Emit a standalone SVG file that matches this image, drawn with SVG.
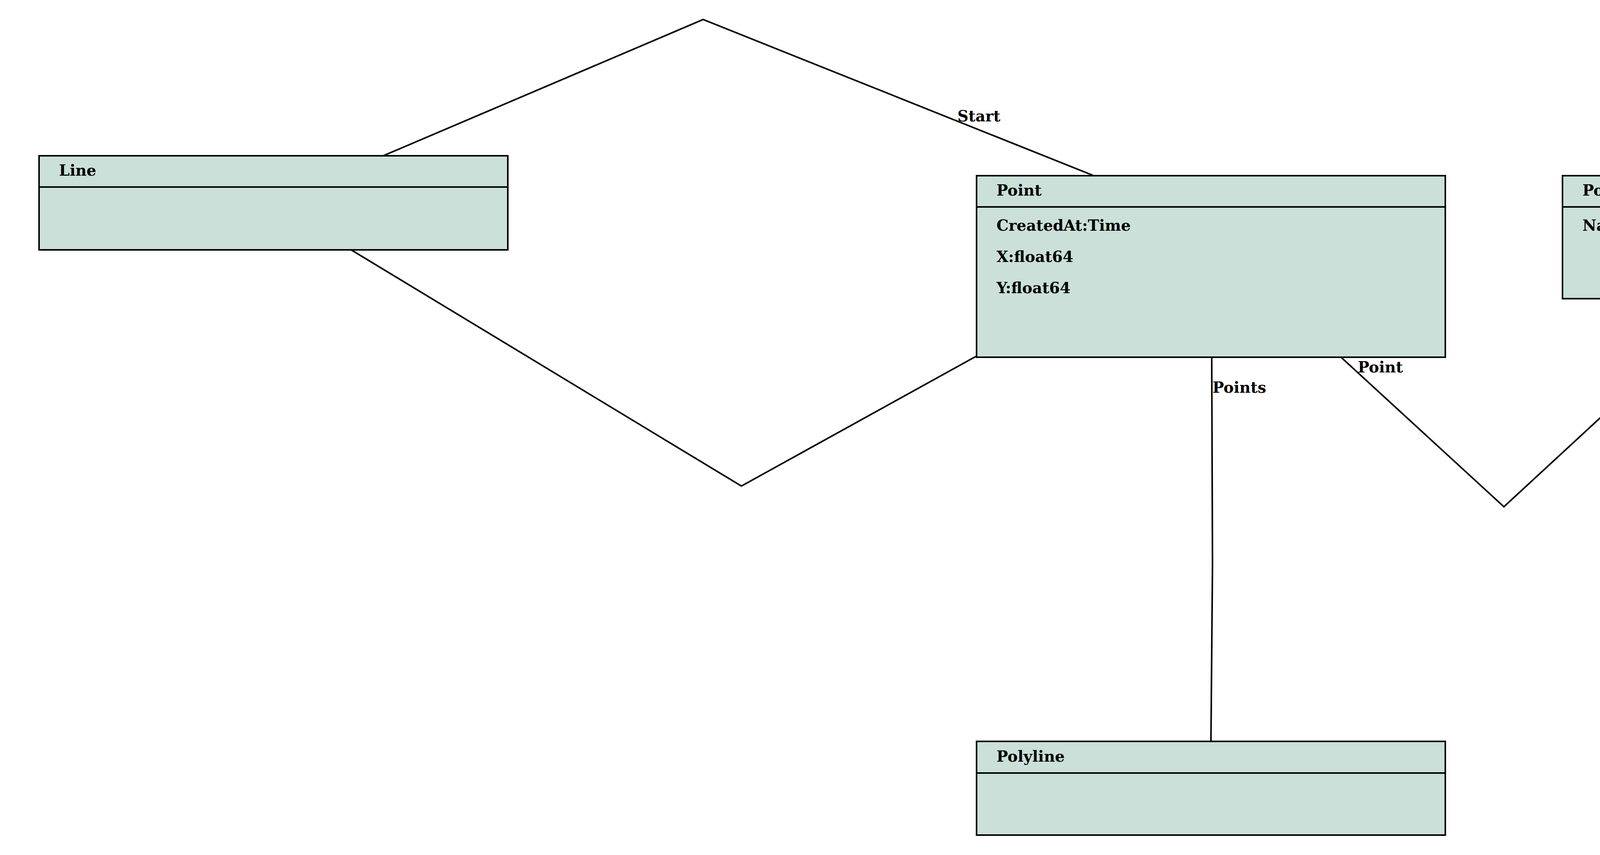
<svg xmlns="http://www.w3.org/2000/svg" width="5250" height="2190" viewBox="0 0 5250 2190">
<style>
.box{fill:#cbe0d8;stroke:#000;stroke-width:4}
.div{stroke:#000;stroke-width:4}
.edge{fill:none;stroke:#000;stroke-width:4;stroke-linejoin:miter}
text{font-family:"DejaVu Serif","Liberation Serif",serif;font-weight:bold;font-size:39px;fill:#000}
</style>
<rect width="5250" height="2190" fill="#fff"/>
<g id="connectors">
<polyline class="edge" points="981,399 1800,50 2800,450"/>
<text x="2451" y="311">Start</text>
<polyline class="edge" points="899,640 1898,1245 2500,912"/>
<polyline class="edge" points="3102,915 3104,1445 3100,1899"/>
<text x="3104" y="1006">Points</text>
<polyline class="edge" points="3433,915 3850,1298 4427,765"/>
<text x="3476" y="954">Point</text>
</g>
<g id="node-Line">
<rect class="box" x="100" y="399" width="1200" height="241"/>
<line class="div" x1="100" y1="479" x2="1300" y2="479"/>
<text x="151" y="450">Line</text>
</g>
<g id="node-Point">
<rect class="box" x="2500" y="450" width="1200" height="465"/>
<line class="div" x1="2500" y1="530" x2="3700" y2="530"/>
<text x="2551" y="501">Point</text>
<text x="2551" y="591">CreatedAt:Time</text>
<text x="2551" y="671">X:float64</text>
<text x="2551" y="751">Y:float64</text>
</g>
<g id="node-PointWithName">
<rect class="box" x="4000" y="450" width="1200" height="315"/>
<line class="div" x1="4000" y1="530" x2="5200" y2="530"/>
<text x="4051" y="501">PointWithName</text>
<text x="4051" y="591">Name:string</text>
</g>
<g id="node-Polyline">
<rect class="box" x="2500" y="1899" width="1200" height="240"/>
<line class="div" x1="2500" y1="1980" x2="3700" y2="1980"/>
<text x="2551" y="1951">Polyline</text>
</g>
</svg>
